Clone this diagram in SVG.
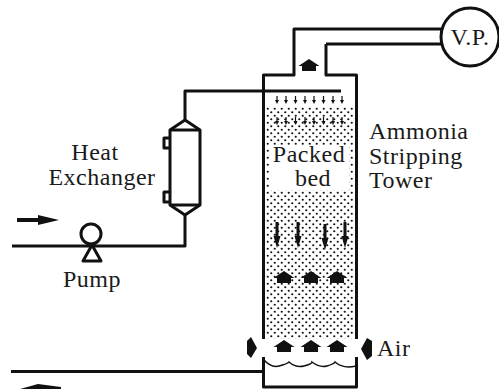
<svg xmlns="http://www.w3.org/2000/svg" width="499" height="389" viewBox="0 0 499 389">
<style>
.l{fill:none;stroke:#111;stroke-width:3;stroke-linejoin:round}
.t{font-family:"Liberation Serif","Times New Roman",serif;font-size:24px;fill:#1a1a1a;letter-spacing:.5px}
.m{text-anchor:middle}
.f{fill:#111}
</style>
<defs>
<pattern id="dots" width="7" height="7" patternUnits="userSpaceOnUse" x="266" y="107">
<circle cx="1.750" cy="1.750" r="1.100" fill="#111"/><circle cx="5.250" cy="5.250" r="1.100" fill="#111"/>
</pattern>
<path id="up" d="M-10.500 1L0-6L10.500 1H7V6H-7V1Z" class="f"/>
<path id="dn" d="M-1.500-26H1.500V-12H3.500L0 0L-3.500-12H-1.500Z" class="f"/>
<path id="sm" d="M-.6-8H.6V-4H2L0 0L-2-4H-.6Z" class="f"/>
</defs>
<rect width="499" height="389" fill="#fff"/>
<g id="packed-bed">
<rect x="266" y="107" width="88" height="232" fill="url(#dots)"/>
<rect x="270" y="145" width="79" height="45" fill="#fff"/>
<use href="#sm" x="277" y="125"/><use href="#sm" x="286" y="125"/><use href="#sm" x="295.500" y="125"/><use href="#sm" x="305" y="125"/><use href="#sm" x="314" y="125"/><use href="#sm" x="323.500" y="125"/><use href="#sm" x="333" y="125"/><use href="#sm" x="342" y="125"/>
<text class="t m" x="309" y="162">Packed</text>
<text class="t m" x="313" y="186">bed</text>
</g>
<g id="spray">
<use href="#sm" x="277" y="104"/><use href="#sm" x="286" y="104"/><use href="#sm" x="295.500" y="104"/><use href="#sm" x="305" y="104"/><use href="#sm" x="314" y="104"/><use href="#sm" x="323.500" y="104"/><use href="#sm" x="333" y="104"/><use href="#sm" x="342" y="104"/>
</g>
<g id="tower">
<path class="l" d="M263.500 339V75H294V29H443M326 44V75H356.500V339M326 44H443"/>
<path class="l" d="M263.500 357V387H356.500V357"/>
<path d="M264 360Q271 368 279 366T289 362Q296 368 304 366T312 362Q320 368 327 366T335 362Q343 369 356 366" fill="none" stroke="#111" stroke-width="1.500"/>
</g>
<g id="vacuum-pump">
<circle cx="470" cy="37" r="29" fill="#fff" stroke="#111" stroke-width="3"/>
<text class="t m" x="470" y="45">V.P.</text>
</g>
<g id="heat-exchanger">
<path class="l" d="M170 130L185 120L200 130V205L185 215L170 205Z"/>
<path class="l" d="M170 130H200M170 205H200"/>
<path class="l" d="M170 138H164V148H170M170 192H164V202H170"/>
</g>
<g id="pump">
<circle cx="91" cy="234" r="10" fill="#fff" stroke="#111" stroke-width="3"/>
<path class="l" d="M92 245L83 261H101Z"/>
</g>
<g id="connectors">
<path class="l" d="M12 246H185V215M185 120V91H341"/>
<path class="l" d="M11 371.500H263.500"/>
<path class="f" d="M17 218H38V215L59 220L38 225V222H17Z"/>
<path class="f" d="M20 389L38 384L61 387V389Z"/>
<use href="#up" x="309" y="65"/>
<use href="#dn" x="277" y="248"/><use href="#dn" x="298" y="248"/><use href="#dn" x="325" y="250"/><use href="#dn" x="345" y="248"/>
<use href="#up" x="284" y="277"/><use href="#up" x="311" y="277"/><use href="#up" x="337" y="277"/>
<use href="#up" x="284" y="346"/><use href="#up" x="311" y="346"/><use href="#up" x="337" y="346"/>
<path class="f" d="M247 341L251 337L257 348L251 358L247 354Z"/>
<path class="f" d="M361 349L367 338L372 341V356L367 360Z"/>
</g>
<g id="labels">
<text class="t m" x="95" y="160">Heat</text>
<text class="t m" x="102" y="185">Exchanger</text>
<text class="t m" x="92" y="287">Pump</text>
<text class="t" x="369" y="139">Ammonia</text>
<text class="t" x="369" y="164">Stripping</text>
<text class="t" x="369" y="188">Tower</text>
<text class="t" x="377" y="356">Air</text>
</g>
</svg>
